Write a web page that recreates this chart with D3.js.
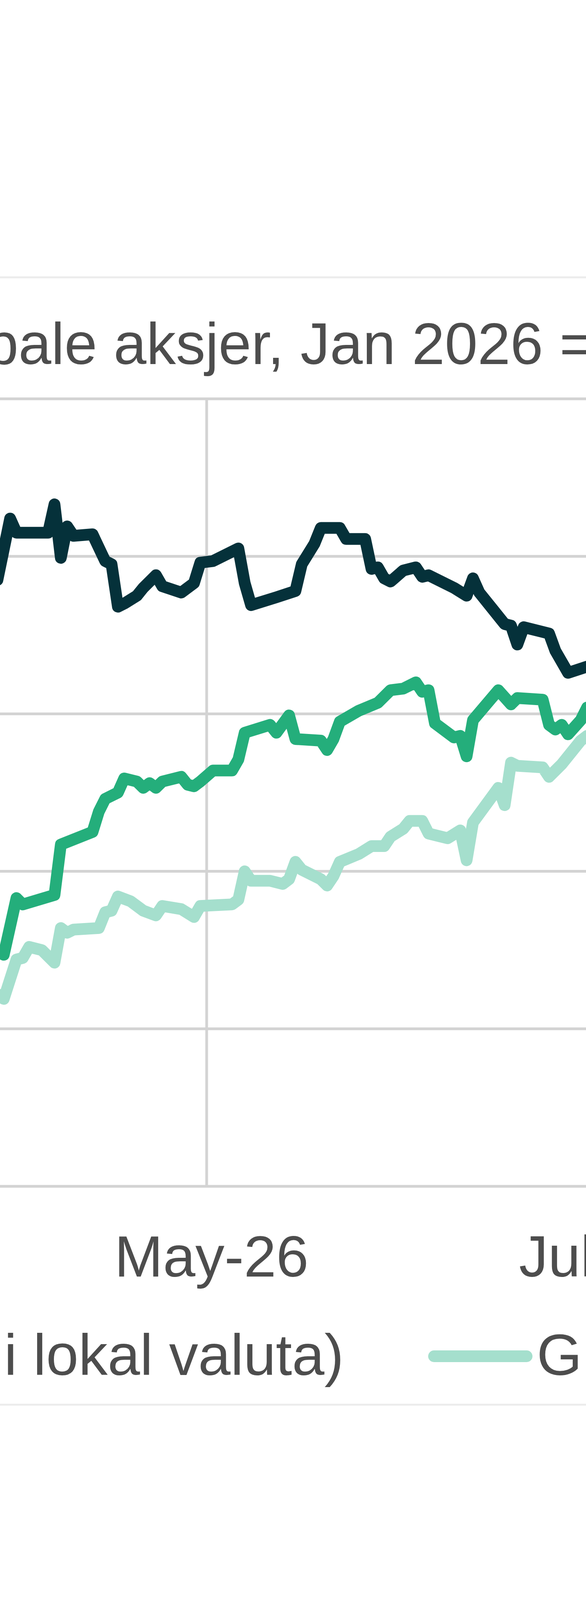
<!DOCTYPE html>
<html>
<head>
<meta charset="utf-8">
<script src="https://cdn.jsdelivr.net/npm/d3@7"></script>
<style>
  body { margin: 0; background: #fff; }
  svg { display: block; }
  text { font-family: "Liberation Sans", Arial, sans-serif; fill: #4d4d4d; }
</style>
</head>
<body>
<svg id="chart"></svg>
<script>
// ---- data ----
const title = "Globale aksjer, Jan 2026 = 100";
const seriesNames = ["Norske aksjer (OSEBX)", "Globale aksjer (målt i lokal valuta)", "Globale aksjer (målt i NOK)"];
const seriesColors = ["#05313a", "#24ae7b", "#a5dfcd"];
const monthTicks = ["2026-03-01", "2026-05-01", "2026-07-01"];
const yTicks = [80, 90, 100, 110, 120, 130];

const osebxDates = ["2026-03-29","2026-03-31","2026-04-01","2026-04-06","2026-04-07","2026-04-08","2026-04-09","2026-04-10","2026-04-13","2026-04-15","2026-04-16","2026-04-17","2026-04-18","2026-04-20","2026-04-21","2026-04-23","2026-04-24","2026-04-27","2026-04-29","2026-04-30","2026-05-02","2026-05-06","2026-05-07","2026-05-08","2026-05-12","2026-05-15","2026-05-16","2026-05-18","2026-05-19","2026-05-22","2026-05-23","2026-05-26","2026-05-27","2026-05-28","2026-05-29","2026-05-30","2026-06-01","2026-06-03","2026-06-04","2026-06-05","2026-06-09","2026-06-11","2026-06-12","2026-06-13","2026-06-17","2026-06-18","2026-06-19","2026-06-20","2026-06-24","2026-06-25","2026-06-27","2026-06-30"];
const osebxValues = [118.5,122.4,121.5,121.5,123.3,119.9,121.9,121.3,121.4,119.7,119.5,116.8,117.0,117.5,118.0,118.8,118.1,117.7,118.3,119.6,119.7,120.5,118.3,116.9,117.4,117.8,119.5,120.8,121.8,121.8,121.1,121.1,119.2,119.3,118.6,118.4,119.1,119.3,118.7,118.8,118.0,117.5,118.6,117.7,115.7,115.6,114.4,115.5,115.1,114.0,112.6,113.0];

const localDates = ["2026-03-29","2026-03-30","2026-04-01","2026-04-02","2026-04-07","2026-04-08","2026-04-13","2026-04-14","2026-04-15","2026-04-17","2026-04-18","2026-04-20","2026-04-21","2026-04-22","2026-04-23","2026-04-24","2026-04-27","2026-04-28","2026-04-29","2026-04-30","2026-05-02","2026-05-05","2026-05-06","2026-05-07","2026-05-11","2026-05-12","2026-05-14","2026-05-15","2026-05-19","2026-05-20","2026-05-21","2026-05-22","2026-05-25","2026-05-28","2026-05-30","2026-06-01","2026-06-03","2026-06-04","2026-06-05","2026-06-06","2026-06-09","2026-06-10","2026-06-11","2026-06-12","2026-06-16","2026-06-18","2026-06-19","2026-06-23","2026-06-24","2026-06-25","2026-06-26","2026-06-27","2026-06-29","2026-06-30"];
const localValues = [94.9,94.7,98.3,97.9,98.5,101.7,102.5,103.8,104.6,105.0,105.9,105.7,105.3,105.6,105.3,105.7,106.0,105.5,105.4,105.7,106.4,106.4,107.1,108.8,109.3,108.8,109.9,108.4,108.3,107.7,108.4,109.5,110.2,110.7,111.5,111.6,112.0,111.4,111.5,109.4,108.5,108.6,107.3,109.6,111.5,110.6,111.0,110.9,109.3,109.0,109.3,108.7,109.6,110.4];

const nokDates = ["2026-03-29","2026-03-30","2026-04-01","2026-04-02","2026-04-03","2026-04-05","2026-04-07","2026-04-08","2026-04-09","2026-04-10","2026-04-14","2026-04-15","2026-04-16","2026-04-17","2026-04-19","2026-04-21","2026-04-23","2026-04-24","2026-04-27","2026-04-29","2026-04-30","2026-05-05","2026-05-06","2026-05-07","2026-05-08","2026-05-11","2026-05-13","2026-05-14","2026-05-15","2026-05-16","2026-05-19","2026-05-20","2026-05-21","2026-05-22","2026-05-25","2026-05-27","2026-05-29","2026-05-30","2026-06-01","2026-06-02","2026-06-04","2026-06-05","2026-06-08","2026-06-10","2026-06-11","2026-06-12","2026-06-16","2026-06-17","2026-06-18","2026-06-19","2026-06-23","2026-06-24","2026-06-26","2026-06-29","2026-06-30"];
const nokValues = [92.2,91.9,94.4,94.5,95.2,95.0,94.2,96.4,96.1,96.3,96.4,97.4,97.5,98.4,98.1,97.5,97.2,97.8,97.6,97.1,97.8,97.9,98.2,100.0,99.4,99.4,99.2,99.5,100.6,100.1,99.5,99.1,99.7,100.6,101.1,101.6,101.6,102.2,102.7,103.2,103.2,102.4,102.1,102.6,100.7,103.1,105.3,104.2,106.9,106.7,106.6,106.0,106.8,108.3,108.6];

// ---- layout ----
const W = 1500, H = 4204;
const fontSize = "149px";
const titleSize = "151px";

const svg = d3.select("#chart").attr("width", W).attr("height", H);
const parse = d3.utcParse("%Y-%m-%d");

const x = d3.scaleUtc()
    .domain([parse("2026-05-01"), parse("2026-07-01")])
    .range([529, 1519]);
const y = d3.scaleLinear().domain([80, 130]).range([3037, 1021]);

// chart area outline
svg.append("rect")
    .attr("x", -20).attr("y", 710).attr("width", W + 40).attr("height", 3596 - 710)
    .attr("fill", "none").attr("stroke", "#ececec").attr("stroke-width", 5);

// title
const titleText = svg.append("text")
    .attr("y", 932)
    .style("font-size", titleSize)
    .text(title);
const jx = titleText.node().getStartPositionOfChar(title.indexOf("Jan")).x;
titleText.attr("x", 769 - jx);

// gridlines
svg.append("g").selectAll("line")
    .data(yTicks)
    .join("line")
    .attr("x1", -50).attr("x2", W + 50)
    .attr("y1", d => y(d)).attr("y2", d => y(d))
    .attr("stroke", "#d3d3d3").attr("stroke-width", 7);

svg.append("g").selectAll("line")
    .data(monthTicks.map(parse))
    .join("line")
    .attr("x1", d => x(d)).attr("x2", d => x(d))
    .attr("y1", y(130)).attr("y2", y(80))
    .attr("stroke", "#d3d3d3").attr("stroke-width", 7);

// x axis labels
const xAxis = d3.axisBottom(x)
    .tickValues(monthTicks.map(parse))
    .tickFormat(d3.utcFormat("%b-%y"))
    .tickSize(0);

svg.append("g")
    .attr("transform", `translate(0,${y(80)})`)
    .call(xAxis)
    .call(g => g.select(".domain").remove())
    .selectAll("text")
    .attr("y", 231).attr("dy", null).attr("dx", 12)
    .style("font-size", fontSize);

// lines
const series = [
    osebxDates.map((d, i) => ({ date: parse(d), value: osebxValues[i] })),
    localDates.map((d, i) => ({ date: parse(d), value: localValues[i] })),
    nokDates.map((d, i) => ({ date: parse(d), value: nokValues[i] }))
];

const line = d3.line().x(d => x(d.date)).y(d => y(d.value));

svg.append("g").selectAll("path")
    .data(series)
    .join("path")
    .attr("d", line)
    .attr("fill", "none")
    .attr("stroke", (d, i) => seriesColors[i])
    .attr("stroke-width", 30)
    .attr("stroke-linejoin", "round")
    .attr("stroke-linecap", "round");

// legend (laid out left to right, then shifted so the last swatch lands in place)
const legend = svg.append("g");
let cursor = 0;
const starts = [];
seriesNames.forEach((name, i) => {
    const item = legend.append("g").attr("transform", `translate(${cursor},0)`);
    item.append("line")
        .attr("x1", 13).attr("x2", 250)
        .attr("stroke", seriesColors[i]).attr("stroke-width", 30)
        .attr("stroke-linecap", "round");
    const t = item.append("text")
        .attr("x", 276).attr("y", 48)
        .style("font-size", fontSize)
        .text(name);
    starts.push(cursor);
    cursor += 276 + t.node().getComputedTextLength() + 218;
});
legend.attr("transform", `translate(${1098 - starts[2]},3472)`);
</script>
</body>
</html>
